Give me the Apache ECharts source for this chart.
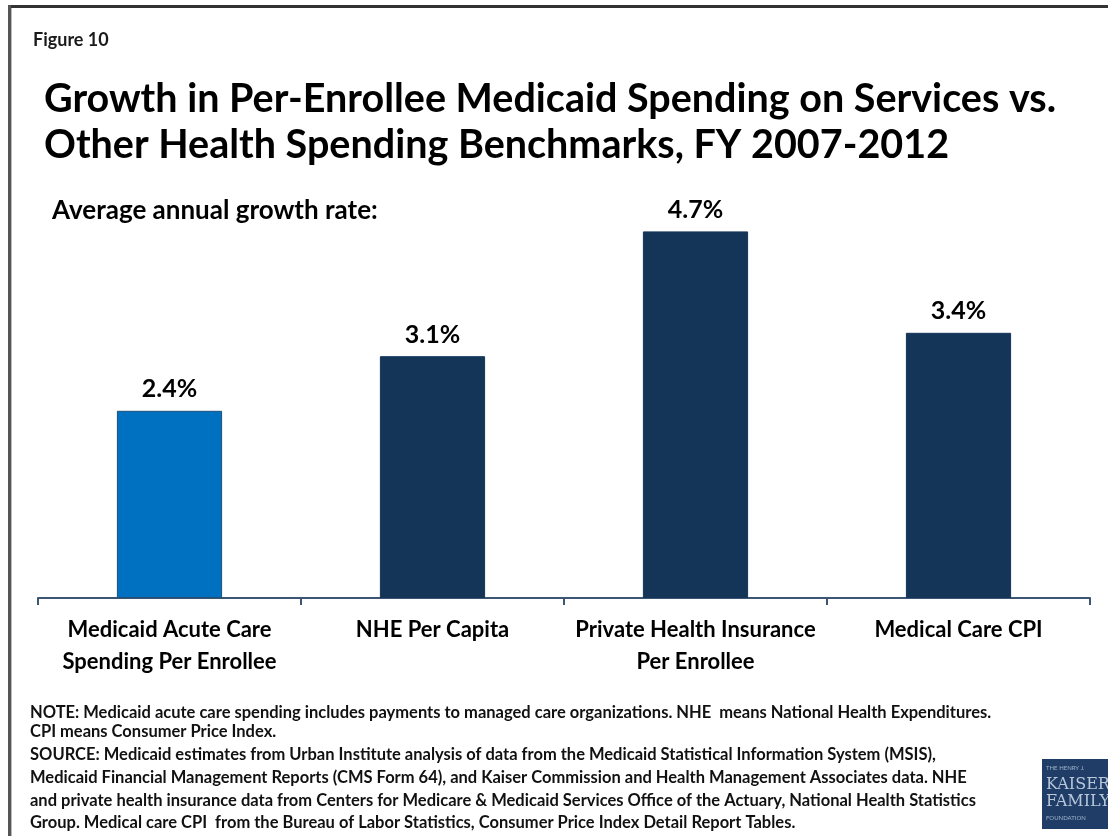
<!DOCTYPE html>
<html>
<head>
<meta charset="utf-8">
<script src="https://cdn.jsdelivr.net/npm/echarts@6/dist/echarts.min.js"></script>
<style>
  html, body { margin: 0; padding: 0; background: #fff; }
  #chart { width: 1108px; height: 836px; }
</style>
</head>
<body>
<div id="chart"></div>
<script>
// Benchmarks compared, and their average annual growth rates (%)
const categories = [
  'Medicaid Acute Care\nSpending Per Enrollee',
  'NHE Per Capita',
  'Private Health Insurance\nPer Enrollee',
  'Medical Care CPI'
];
const growthRates = [2.4, 3.1, 4.7, 3.4];
const barColors = ['#0070C0', '#143558', '#143558', '#143558'];

const noteLines = [
  'NOTE: Medicaid acute care spending includes payments to managed care organizations. NHE  means National Health Expenditures.',
  'CPI means Consumer Price Index.',
  'SOURCE: Medicaid estimates from Urban Institute analysis of data from the Medicaid Statistical Information System (MSIS),',
  'Medicaid Financial Management Reports (CMS Form 64), and Kaiser Commission and Health Management Associates data. NHE',
  'and private health insurance data from Centers for Medicare & Medicaid Services Office of the Actuary, National Health Statistics',
  'Group. Medical care CPI  from the Bureau of Labor Statistics, Consumer Price Index Detail Report Tables.'
];
const noteY = [714, 733, 756, 779, 802, 824];

const FONT = 'Lato, "Open Sans", sans-serif';

const chart = echarts.init(document.getElementById('chart'), null, { renderer: 'canvas' });

const graphics = [
  // slide frame: top and left edges
  { type: 'rect', shape: { x: 8, y: 5, width: 1100, height: 3 }, style: { fill: '#333' } },
  { type: 'rect', shape: { x: 8, y: 5, width: 3, height: 831 }, style: { fill: '#555' } },
  { type: 'rect', shape: { x: 11, y: 8, width: 1, height: 828 }, style: { fill: '#bbb' } },
  { type: 'text', left: 33, top: 31, style: { text: 'Figure 10', font: 'bold 18px ' + FONT, fill: '#1a1a1a' } },
  { type: 'text', left: 44, top: 76, style: {
      text: 'Growth in Per-Enrollee Medicaid Spending on Services vs.\nOther Health Spending Benchmarks, FY 2007-2012',
      font: 'bold 39.5px ' + FONT, lineHeight: 46, fill: '#000' } },
  { type: 'text', left: 52, top: 198, style: { text: 'Average annual growth rate:', font: 'bold 26px ' + FONT, fill: '#000' } },
  // foundation logo block
  { type: 'rect', shape: { x: 1042, y: 759, width: 66, height: 70 }, style: { fill: '#1f3d66' } },
  { type: 'text', left: 1046, top: 765, style: { text: 'THE HENRY J.', font: '6px ' + FONT, fill: '#9fb3cc' } },
  { type: 'text', left: 1046, top: 776, style: { text: 'KAISER\nFAMILY', font: '16px "DejaVu Serif", serif', lineHeight: 17, fill: '#b8c7da' } },
  { type: 'text', left: 1046, top: 815, style: { text: 'FOUNDATION', font: '6px ' + FONT, fill: '#9fb3cc' } }
];
noteLines.forEach(function (t, i) {
  graphics.push({ type: 'text', left: 30, top: noteY[i] - 10,
    style: { text: t, font: 'bold 16.5px ' + FONT, fill: '#111' } });
});

chart.setOption({
  animation: false,
  grid: { left: 38, right: 18, top: 208, bottom: 238 },
  xAxis: {
    type: 'category',
    data: categories,
    axisLine: { lineStyle: { color: '#3B5573', width: 2 } },
    axisTick: { show: true, alignWithLabel: false, length: 7, lineStyle: { color: '#3B5573', width: 2 } },
    axisLabel: { margin: 16, color: '#000', fontFamily: FONT, fontWeight: 'bold', fontSize: 22, lineHeight: 32, interval: 0 }
  },
  yAxis: { type: 'value', min: 0, max: 5, show: false, splitLine: { show: false } },
  series: [{
    type: 'bar',
    barWidth: '40%',
    data: growthRates.map(function (v, i) {
      return { value: v, itemStyle: { color: barColors[i], borderColor: i === 0 ? '#1F4E79' : '#143558', borderWidth: 1 } };
    }),
    label: {
      show: true, position: 'top', distance: 9,
      formatter: function (p) { return p.value.toFixed(1) + '%'; },
      color: '#000', fontFamily: FONT, fontWeight: 'bold', fontSize: 25
    }
  }],
  graphic: graphics
});
</script>
</body>
</html>
